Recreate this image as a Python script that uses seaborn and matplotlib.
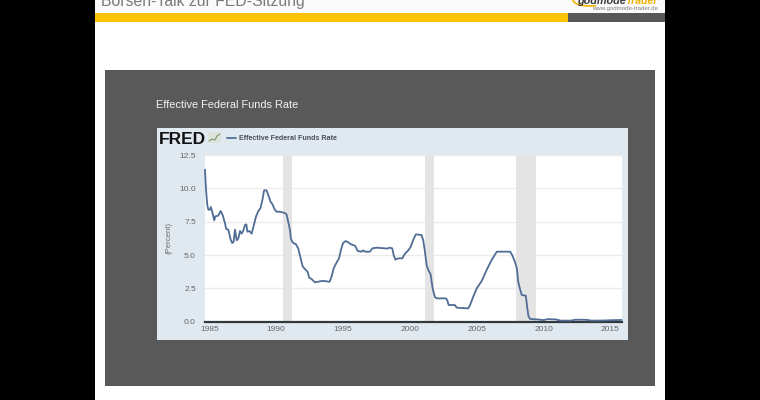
import numpy as np
import pandas as pd
import seaborn as sns
import matplotlib
matplotlib.use('agg')
import matplotlib.pyplot as plt
from matplotlib.lines import Line2D
from matplotlib.patches import Rectangle, Arc

# values (decimal year, percent)
years = [1984.68, 1984.75, 1984.85, 1984.93, 1985.05, 1985.12, 1985.22, 1985.37, 1985.45, 1985.67,
         1985.85, 1986.0, 1986.17, 1986.27, 1986.42, 1986.6, 1986.72, 1986.82, 1986.92, 1987.05,
         1987.17, 1987.3, 1987.42, 1987.55, 1987.67, 1987.77, 1987.85, 1988.0, 1988.17, 1988.3,
         1988.5, 1988.67, 1988.82, 1988.97, 1989.1, 1989.28, 1989.45, 1989.58, 1989.7, 1989.9,
         1990.03, 1990.28, 1990.45, 1990.65, 1990.78, 1990.9, 1991.03, 1991.1, 1991.2, 1991.35,
         1991.45, 1991.65, 1991.8, 1991.98, 1992.15, 1992.35, 1992.47, 1992.65, 1992.9, 1993.15,
         1993.4, 1993.65, 1993.9, 1994.0, 1994.15, 1994.3, 1994.5, 1994.7, 1994.85, 1995.0,
         1995.2, 1995.4, 1995.6, 1995.9, 1996.1, 1996.4, 1996.5, 1996.65, 1997.0, 1997.2,
         1997.5, 1998.15, 1998.3, 1998.5, 1998.68, 1998.8, 1998.93, 1999.13, 1999.43, 1999.63,
         1999.88, 2000.05, 2000.3, 2000.45, 2000.87, 2001.0, 2001.12, 2001.25, 2001.37, 2001.55,
         2001.7, 2001.87, 2002.0, 2002.7, 2002.8, 2002.9, 2003.37, 2003.5, 2004.37, 2004.5,
         2004.75, 2005.0, 2005.37, 2005.75, 2006.1, 2006.5, 2007.5, 2007.65, 2007.85, 2008.0,
         2008.1, 2008.25, 2008.37, 2008.67, 2008.77, 2008.87, 2009.0, 2009.5, 2010.0, 2010.3,
         2010.9, 2011.3, 2012.0, 2012.4, 2013.2, 2013.6, 2014.5, 2015.0, 2015.84]
rate = [11.4, 10.0, 8.75, 8.4, 8.4, 8.6, 8.25, 7.6, 7.9, 7.95,
        8.3, 8.0, 7.4, 6.95, 6.9, 6.15, 5.9, 6.0, 6.9, 6.1,
        6.25, 6.8, 6.6, 6.85, 7.25, 7.3, 6.75, 6.8, 6.6, 7.1,
        7.9, 8.3, 8.5, 9.1, 9.85, 9.85, 9.4, 9.0, 8.85, 8.4,
        8.25, 8.25, 8.2, 8.15, 8.05, 7.5, 6.9, 6.25, 6.0, 5.85,
        5.85, 5.5, 4.9, 4.15, 3.95, 3.75, 3.3, 3.2, 2.95, 3.0,
        3.05, 3.05, 3.0, 3.0, 3.4, 4.0, 4.4, 4.75, 5.4, 5.9,
        6.05, 5.95, 5.8, 5.7, 5.3, 5.25, 5.35, 5.25, 5.25, 5.5,
        5.55, 5.5, 5.48, 5.55, 5.5, 4.95, 4.65, 4.75, 4.75, 5.1,
        5.35, 5.6, 6.25, 6.55, 6.5, 6.1, 5.3, 4.25, 3.9, 3.55,
        2.5, 1.85, 1.75, 1.75, 1.6, 1.25, 1.25, 1.05, 1.0, 1.25,
        1.9, 2.5, 3.05, 3.9, 4.6, 5.25, 5.25, 5.0, 4.5, 4.0,
        3.0, 2.4, 2.0, 1.95, 1.1, 0.4, 0.2, 0.17, 0.12, 0.19,
        0.17, 0.08, 0.08, 0.15, 0.14, 0.08, 0.09, 0.11, 0.13]
recession_start = [1990.5, 2001.15, 2007.9]
recession_end = [1991.15, 2001.8, 2009.4]
year_ticks = [1985, 1990, 1995, 2000, 2005, 2010, 2015]
rate_ticks = [0.0, 2.5, 5.0, 7.5, 10.0, 12.5]

W, H = 760, 400


def box(fig, x0, y0, x1, y1, color):
    # rectangle given in picture pixels, y counted from the top
    fig.add_artist(Rectangle((x0 / W, 1 - y1 / H), (x1 - x0) / W, (y1 - y0) / H, zorder=-5,
                             transform=fig.transFigure, facecolor=color, edgecolor='none'))


sns.set_theme(style='whitegrid')
plt.rcParams['font.family'] = ['Liberation Sans', 'DejaVu Sans']

fig = plt.figure(figsize=(W / 100, H / 100), dpi=100, facecolor='black')

# slide background
box(fig, 95, 0, 665, 400, 'white')
box(fig, 95, 0, 665, 13, '#fafafa')
box(fig, 95, 13, 568, 22, '#fdc300')
box(fig, 568, 13, 665, 22, '#58585a')
box(fig, 105, 70, 655, 386, '#595959')
box(fig, 157, 128, 628, 340, '#e1e9f0')

fig.text(101 / W, 1 - 6 / H, 'Börsen-Talk zur FED-Sitzung', fontsize=11.3, color='#7a7a7a',
         ha='left', va='baseline')
fig.text(626 / W, 1 - 4 / H, 'godmode', fontsize=7.8, color='#3a3a3a', weight='bold',
         style='italic', ha='right', va='baseline')
fig.text(658 / W, 1 - 4 / H, 'Trader', fontsize=7.6, color='#f0b400', weight='bold',
         style='italic', ha='right', va='baseline')
fig.text(658 / W, 1 - 10 / H, 'www.godmode-trader.de', fontsize=4.4, color='#808080',
         ha='right', va='baseline')
fig.text(156 / W, 1 - 108 / H, 'Effective Federal Funds Rate', fontsize=7.9, color='#f2f2f2',
         ha='left', va='baseline')
fig.add_artist(Arc((590 / W, 1), 34 / W, 12 / H, theta1=180, theta2=300, color='#f0b400',
                   linewidth=1.2, transform=fig.transFigure))

# FRED chart
ax = fig.add_axes([205 / W, 1 - 321.7 / H, 416.7 / W, 166.7 / H], zorder=2)
ax.set_facecolor('white')
df = pd.DataFrame({'year': years, 'rate': rate})
for start, end in zip(recession_start, recession_end):
    ax.axvspan(start, end, color='#e4e4e4', lw=0, zorder=1)
sns.lineplot(data=df, x='year', y='rate', ax=ax, color='#4f6d95', linewidth=1.3,
             label='Effective Federal Funds Rate', zorder=3, clip_on=False)

ax.set_xlim(1984.68, 2015.84)
ax.set_ylim(0, 12.5)
ax.set_xticks(year_ticks)
ax.set_xticklabels([str(y) for y in year_ticks])
ax.set_yticks(rate_ticks)
ax.set_yticklabels([f'{v:.1f}' for v in rate_ticks])
ax.set_xlabel('')
ax.set_ylabel('(Percent)', fontsize=5.6, color='#6b6b6b')
ax.yaxis.set_label_coords(-0.078, 0.5)
ax.grid(axis='x', visible=False)
ax.grid(axis='y', color='#ececec', linewidth=1)
ax.tick_params(axis='x', labelsize=6, labelcolor='#666666', length=0, pad=3.2)
ax.tick_params(axis='y', labelsize=6, labelcolor='#666666', length=0, pad=6.5)
for side in ['top', 'left', 'right']:
    ax.spines[side].set_visible(False)
ax.spines['bottom'].set_color('#33383d')
ax.spines['bottom'].set_linewidth(1.6)

leg = ax.legend(loc='upper left', bbox_to_anchor=(227 / W, 1 - 135 / H), bbox_transform=fig.transFigure,
                frameon=False, fontsize=5.1, handlelength=1.27, handletextpad=0.42,
                borderpad=0, borderaxespad=0)
for t in leg.get_texts():
    t.set_color('#4a4f57')
    t.set_fontweight('bold')

# logo
fig.text(159 / W, 1 - 144 / H, 'FRED', fontsize=12.5, weight='bold', color='#111111',
         ha='left', va='baseline')
box(fig, 208, 132, 221, 143, '#dde3dc')
fig.add_artist(Line2D([209 / W, 212 / W, 215 / W, 217 / W, 220 / W],
                      [1 - 141 / H, 1 - 139 / H, 1 - 140 / H, 1 - 136 / H, 1 - 134 / H],
                      color='#7f9a72', linewidth=0.8, transform=fig.transFigure))

plt.savefig('out.png', dpi=100)
